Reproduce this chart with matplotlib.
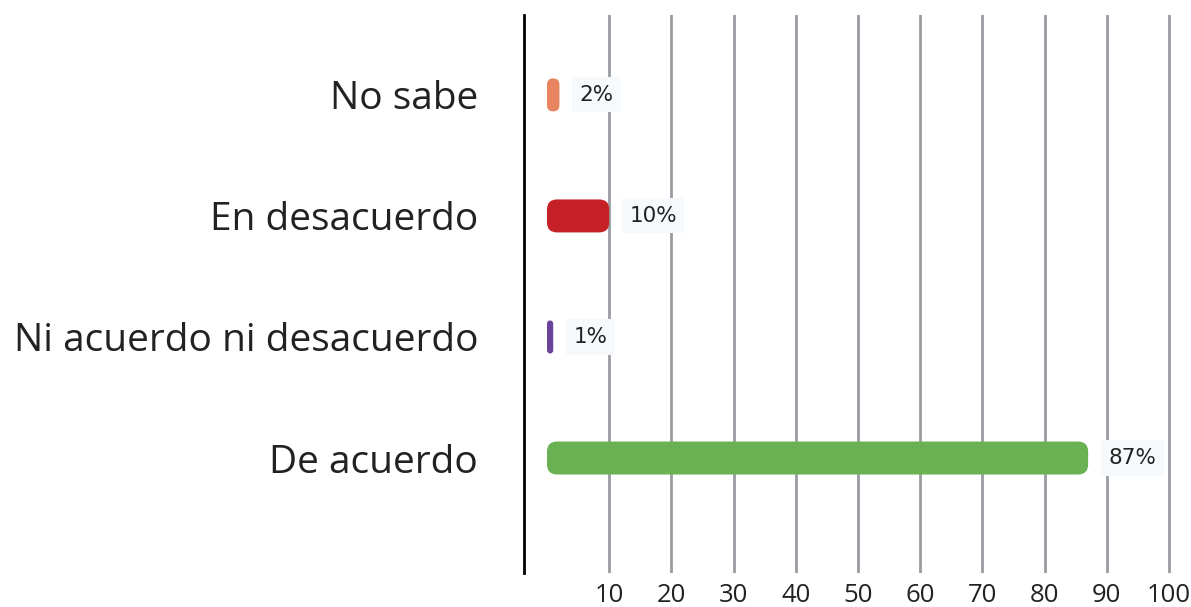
import matplotlib.pyplot as plt
from matplotlib.patches import FancyBboxPatch

categories = ['De acuerdo', 'Ni acuerdo ni desacuerdo', 'En desacuerdo', 'No sabe']
values = [87, 1, 10, 2]
colors = ['#6ab153', '#6a449a', '#c42026', '#e8845f']
ticks = [10, 20, 30, 40, 50, 60, 70, 80, 90, 100]

W, H = 1191, 607
fig = plt.figure(figsize=(W / 100, H / 100), dpi=100)
# axes placed in pixel terms: left black line at 524px, top 15px, bottom 573px
ax = fig.add_axes([524 / W, (H - 573) / H, (W - 524) / W, (573 - 15) / H])

px_per_x = 6.22
xmin = -(547 - 524) / px_per_x
xmax = xmin + (W - 524) / px_per_x
ax.set_xlim(xmin, xmax)
ax.set_ylim(-0.95, 3.66)
px_per_y = (573 - 15) / (3.66 + 0.95)

for s in ['top', 'right', 'bottom']:
  ax.spines[s].set_visible(False)
ax.spines['left'].set_color('black')
ax.spines['left'].set_linewidth(2)

for t in ticks:
  ax.axvline(t, color='#9a9ca1', lw=2, zorder=0)

ax.set_xticks(ticks)
ax.set_xticklabels([str(t) for t in ticks], fontsize=18.5, color='#222222', family='Open Sans')
ax.tick_params(axis='x', length=0, pad=7)
ax.set_yticks(range(len(categories)))
ax.set_yticklabels(categories, fontsize=28, color='#222222', family='Open Sans')
ax.tick_params(axis='y', length=0, pad=33)

bar_h = 33 / px_per_y
r_px = 10
aspect = px_per_x / px_per_y
for i, (v, c) in enumerate(zip(values, colors)):
  r = min(r_px / px_per_x, v / 2)
  p = FancyBboxPatch((0, i - bar_h / 2), v, bar_h,
                     boxstyle=f'round,pad=0,rounding_size={r}',
                     mutation_aspect=aspect, fc=c, ec='none', zorder=2)
  ax.add_patch(p)
  ax.text(v + 20 / px_per_x, i, f'{v}%', va='center', ha='left', fontsize=15.5,
          color='#222222', family='DejaVu Sans', zorder=3,
          bbox=dict(boxstyle='square,pad=0.35', fc='#f6fafc', ec='none'))

fig.savefig('out.png', dpi=100)
